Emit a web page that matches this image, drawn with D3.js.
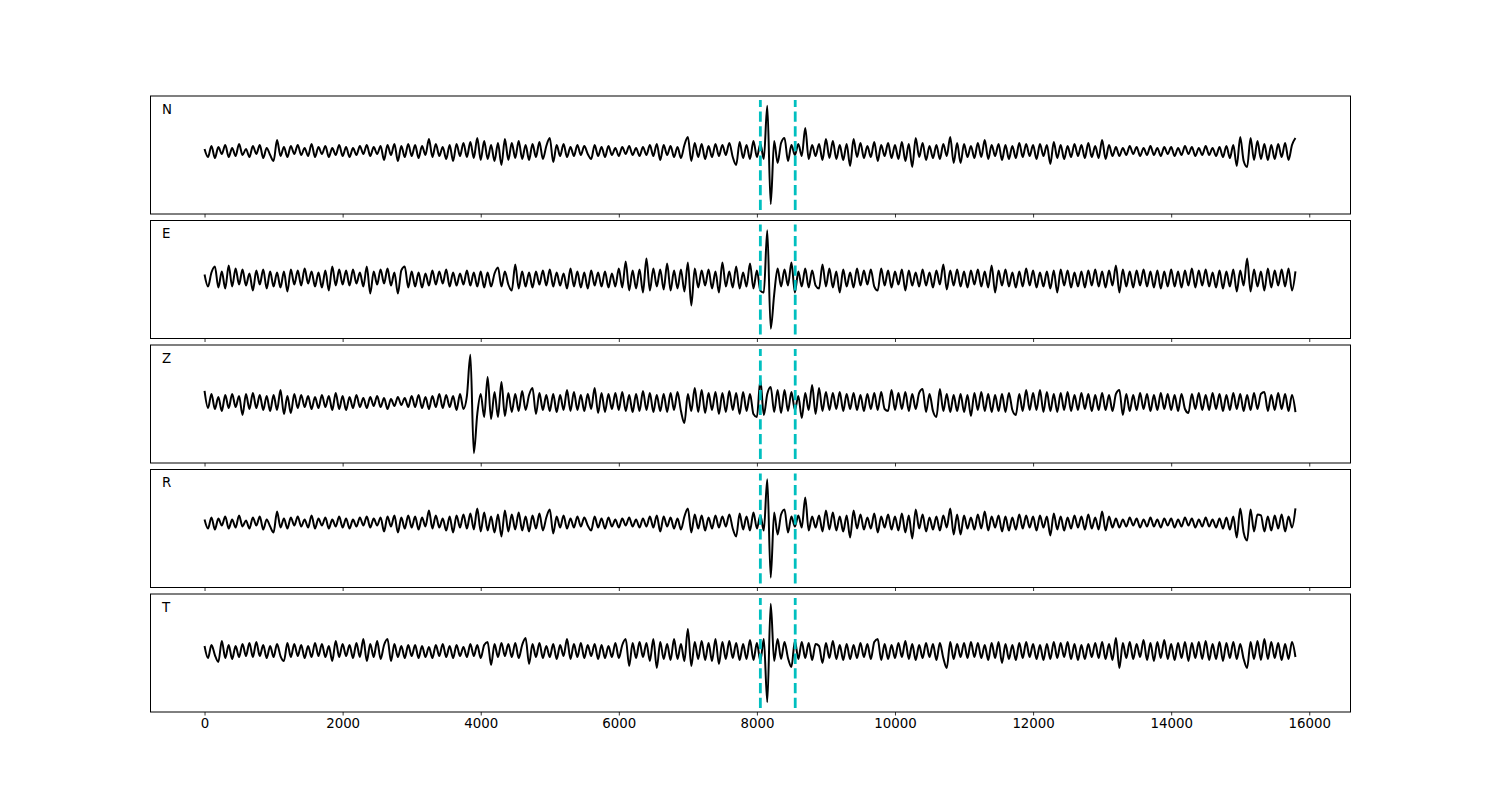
<!DOCTYPE html>
<html>
<head>
<meta charset="utf-8">
<script src="https://cdn.jsdelivr.net/npm/d3@7"></script>
<style>
  html, body { margin: 0; padding: 0; background: #fff; }
  svg { display: block; font-family: "DejaVu Sans", sans-serif; }
</style>
</head>
<body>
<svg id="chart" width="1500" height="800"></svg>
<script>
const components = ["N", "E", "Z", "R", "T"];
const sampleStep = 50;
const xTicks = [0, 2000, 4000, 6000, 8000, 10000, 12000, 14000, 16000];
const pickTimes = [8050, 8555];

const traceN = [
  2,-6,5,-7,4,-3,6,-6,3,-5,7,-4,2,-6,5,-3,6,-7,3,-4,
  -10,11,-5,4,-6,5,-3,6,-4,3,-5,7,-6,4,-3,5,-6,3,-4,6,
  -5,4,-6,3,-4,5,-3,6,-5,4,-3,5,-9,6,-4,7,-10,5,-6,7,
  -5,6,-7,5,-4,12,-6,7,-5,4,-8,6,-10,7,-5,8,-6,9,-7,13,
  -9,10,-8,6,-10,8,-14,12,-9,8,-7,10,-8,6,-9,7,-6,9,-8,5,
  13,-11,6,-5,7,-6,4,-5,6,-4,5,-3,-8,6,-5,4,-6,5,-4,3,
  -5,4,-3,5,-4,3,-5,4,-4,6,-5,7,-9,6,-4,5,-6,4,-7,6,
  14,-10,8,-6,7,-8,5,-6,7,-5,6,-4,8,-6,-14,9,-7,6,-8,10,
  -6,7,-8,45,-53,10,-12,8,13,-10,6,-4,7,-5,23,-8,6,-5,7,-9,
  12,-7,10,-8,6,-9,7,-15,12,-6,8,-7,5,-6,9,-10,6,-5,8,-7,
  6,-8,9,-10,7,-16,13,-6,8,-9,5,-7,6,-8,7,-5,14,-12,8,-12,
  7,-6,5,-7,8,-6,11,-8,6,-5,7,-9,6,-8,5,-7,8,-6,7,-5,
  6,-8,7,-5,6,-13,9,-7,6,-8,5,-6,7,-5,6,-7,8,-6,5,-7,
  11,-8,6,-5,4,-5,3,-4,5,-3,4,-5,3,-4,5,-4,3,-5,4,-3,
  4,-5,3,-4,5,-3,4,-5,3,-4,5,-4,3,-5,4,-6,5,-7,6,-15,
  14,-10,-16,13,-9,10,-8,7,-9,6,-8,7,-6,8,-9,6,13
];

const traceE = [
  4,-8,6,12,-9,7,-10,13,-8,10,-6,9,-7,5,-12,8,-6,9,-10,7,
  -8,6,-9,7,-13,9,-6,8,-7,10,-5,7,-8,6,-9,8,-12,12,-7,9,
  -6,8,-7,9,-5,6,-8,12,-15,7,-6,9,-5,10,-7,6,-15,8,12,-9,
  7,-8,6,-9,5,-7,8,-6,7,-5,9,-8,6,-7,5,-6,8,-7,6,-8,
  7,-9,6,-8,5,11,-8,7,-6,-12,14,-10,7,-8,6,-9,7,-6,8,-7,
  9,-8,6,-7,5,-10,10,-8,7,-9,6,-10,8,-7,6,-8,7,-9,5,-8,
  10,-9,17,-12,8,-10,9,-14,20,-12,10,-8,9,-11,15,-12,8,-10,9,-13,
  16,-27,10,-9,8,-7,9,-10,7,-14,16,-8,7,-9,12,-10,6,-8,15,-10,
  8,-12,-14,48,-50,-16,10,-8,9,-7,16,-14,7,-8,10,-9,8,-7,-10,14,
  -8,10,-9,7,-14,9,-8,6,-9,10,-7,8,-6,9,-8,-12,10,-7,8,-9,
  7,-6,9,-12,8,-7,6,-8,9,-7,6,-9,8,-6,14,-11,8,-7,9,-8,
  7,-9,8,-6,9,-8,7,-9,13,-14,8,-7,9,-8,6,-9,7,-8,10,-7,
  8,-9,6,-8,7,-10,8,-14,9,-7,8,-9,6,-8,7,-9,8,-7,9,-8,
  7,-9,8,-7,13,-14,9,-8,7,-9,8,-7,9,-8,7,-9,8,-10,7,-8,
  9,-8,7,-9,8,-7,10,-9,8,-7,9,-8,6,-9,8,-10,7,-8,9,-13,
  8,-7,20,-13,9,-8,7,-12,10,-9,8,-7,9,-8,10,-12,7
];

const traceZ = [
  11,-6,8,-7,5,-9,7,-6,8,-5,6,-13,8,-7,9,-6,7,-8,6,-9,
  7,-8,12,-12,6,-11,8,-6,7,-5,6,-7,5,-6,7,-5,6,-8,9,-7,
  6,-8,5,-6,7,-5,4,-6,5,-4,6,-5,4,-7,3,-4,5,-3,4,-5,
  6,-5,7,-6,5,-7,6,-5,8,-6,7,-5,6,-8,8,-7,6,47,-51,-12,
  8,-15,25,-17,10,-15,20,-14,9,-10,8,-9,11,-8,7,14,-12,9,-8,7,
  -9,8,-10,7,-8,12,-9,10,-8,7,-9,8,-7,14,-11,9,-10,8,-7,9,
  -8,10,-9,7,-10,8,-9,11,-8,9,-10,7,-9,8,-10,9,-8,10,-9,-21,
  8,-9,14,-10,12,-11,9,-8,10,-12,9,-10,11,-8,9,-12,10,-9,8,-12,
  -15,22,-13,8,15,-10,12,-11,12,-9,10,-8,6,-16,9,-8,17,-12,14,-9,
  10,-8,9,-7,10,-9,8,-7,9,-8,7,-9,8,-7,9,-8,10,-7,-9,12,
  -8,9,-7,10,-9,8,-7,9,13,-10,8,-9,-15,13,-9,8,-10,7,-9,8,
  -10,7,-14,9,-8,10,-9,8,-10,7,-9,8,-10,9,-8,-13,8,-9,12,-8,
  9,-8,12,-10,10,-9,8,-10,9,-8,10,-9,7,-8,9,-7,8,-9,7,-8,
  9,-8,7,-9,8,12,-13,8,-9,7,-8,9,-7,8,-9,7,-8,9,-7,8,
  -8,7,-9,8,-7,-11,8,-7,9,-8,7,-8,9,-7,8,-9,7,-8,9,-7,
  8,-9,7,-8,9,-7,8,10,-9,7,-8,9,-7,8,-9,7,-10
];

const traceR = [
  3,-6,5,-7,4,-3,6,-6,3,-5,7,-4,2,-6,5,-3,6,-7,3,-4,
  -10,11,-5,4,-6,5,-3,6,-4,3,-5,7,-6,4,-3,5,-6,3,-4,6,
  -5,4,-6,3,-4,5,-3,6,-5,4,-3,5,-9,6,-4,7,-10,5,-6,7,
  -5,6,-7,5,-4,12,-6,7,-5,4,-8,6,-10,7,-5,8,-6,9,-7,14,
  -9,10,-8,6,-10,8,-14,12,-9,8,-7,10,-8,6,-9,7,-6,9,-8,5,
  13,-11,6,-5,7,-6,4,-5,6,-4,5,-3,-8,6,-5,4,-6,5,-4,3,
  -5,4,-3,5,-4,3,-5,4,-4,6,-5,7,-9,6,-4,5,-6,4,-7,6,
  14,-10,8,-6,7,-8,5,-6,7,-5,6,-4,8,-6,-14,9,-7,6,-8,10,
  -6,7,-8,43,-55,10,-12,8,13,-10,6,-4,7,-5,25,-8,6,-5,7,-9,
  12,-7,10,-8,6,-9,7,-15,12,-6,8,-7,5,-6,9,-10,6,-5,8,-7,
  6,-8,9,-10,7,-16,13,-6,8,-9,5,-7,6,-8,7,-5,14,-12,8,-12,
  7,-6,5,-7,8,-6,11,-8,6,-5,7,-9,6,-8,5,-7,8,-6,7,-5,
  6,-8,7,-5,6,-13,9,-7,6,-8,5,-6,7,-5,6,-7,8,-6,5,-7,
  11,-8,6,-5,4,-5,3,-4,5,-3,4,-5,3,-4,5,-4,3,-5,4,-3,
  4,-5,3,-4,5,-3,4,-5,3,-4,5,-4,3,-5,4,-6,5,-7,6,-15,
  14,-10,-18,13,-9,8,7,-9,6,-8,7,-6,8,-9,6,-5,14
];

const traceT = [
  5,-7,6,-4,-11,10,-7,6,-8,5,-6,7,-5,8,-6,9,-5,6,-7,5,
  -6,7,-5,-10,8,-6,7,-5,6,-7,5,-6,8,-5,7,-6,5,-10,10,-6,
  7,-5,6,-7,8,-6,12,-10,7,-6,10,-8,6,12,-10,7,-6,5,-7,6,
  -5,6,-7,5,-6,4,-7,6,-5,7,-6,5,-7,6,-5,4,-6,7,-5,6,
  -7,6,9,-14,7,-6,8,-5,7,-6,8,-7,6,13,-13,7,-6,8,-7,5,
  -6,7,-8,6,-5,12,-8,7,-6,8,-7,6,-5,7,-8,6,-7,5,-6,8,
  -7,6,12,-15,8,-7,9,-6,8,-10,12,-17,9,-8,7,-9,12,-8,7,-10,
  22,-15,9,-8,10,-9,8,-10,12,-13,9,-8,10,-7,8,-9,7,-8,11,-9,
  8,-10,12,-51,47,-10,12,-8,9,-7,-16,10,-8,9,-7,8,-9,7,5,-12,
  8,-7,10,-8,6,-9,7,-8,6,-7,8,-6,7,-8,9,12,-9,7,-8,6,
  -7,8,-6,10,-8,7,-9,6,-7,8,-6,7,-9,8,-7,-17,9,-8,7,-6,
  8,-7,9,-6,8,-7,6,-9,8,-7,9,-12,7,-8,6,-9,8,-7,9,-6,
  7,-8,6,-9,7,-8,9,-7,8,-6,9,-8,7,-9,6,-8,7,-6,8,-7,
  9,-8,7,-9,13,-17,8,-7,9,-8,7,-6,11,-9,8,-10,9,-7,11,-8,
  7,-9,8,-7,9,-10,8,-7,9,-8,10,-9,7,-8,9,-10,8,-7,9,-8,
  7,-8,-17,9,-8,10,-9,12,-8,9,-7,8,-9,7,-8,9,-6
];

const traces = [traceN, traceE, traceZ, traceR, traceT];

// ---- layout ----
const figW = 1500, figH = 800;
const plotLeft = 150, plotRight = 1350, plotTop = 96, plotBottom = 712;
const nPanels = components.length;
const panelGap = 6.5;
const panelH = (plotBottom - plotTop - panelGap * (nPanels - 1)) / nPanels;

const svg = d3.select("#chart");
svg.append("rect").attr("width", figW).attr("height", figH).attr("fill", "#fff");

const tMax = (traceN.length - 1) * sampleStep;
const xMargin = 0.05 * tMax;
const x = d3.scaleLinear().domain([-xMargin, tMax + xMargin]).range([plotLeft, plotRight]);

components.forEach((name, k) => {
  const data = traces[k];
  const y0 = plotTop + k * (panelH + panelGap);
  const [mn, mx] = d3.extent(data);
  const pad = 0.1 * (mx - mn);
  const y = d3.scaleLinear().domain([mn - pad, mx + pad]).range([y0 + panelH, y0]);

  const g = svg.append("g");

  const clipId = "clip" + k;
  svg.append("clipPath").attr("id", clipId)
    .append("rect").attr("x", plotLeft).attr("y", y0).attr("width", plotRight - plotLeft).attr("height", panelH);

  const line = d3.line()
    .x((d, i) => x(i * sampleStep))
    .y(d => y(d))
    .curve(d3.curveMonotoneX);

  g.append("path")
    .datum(data)
    .attr("clip-path", `url(#${clipId})`)
    .attr("fill", "none")
    .attr("stroke", "#000")
    .attr("stroke-width", 2)
    .attr("stroke-linejoin", "round")
    .attr("d", line);

  // pick lines
  g.selectAll("line.pick").data(pickTimes).enter().append("line")
    .attr("class", "pick")
    .attr("x1", d => x(d)).attr("x2", d => x(d))
    .attr("y1", y0 + panelH - 4).attr("y2", y0 + 4)
    .attr("stroke", "#00bfbf")
    .attr("stroke-width", 2.8)
    .attr("stroke-dasharray", "10.3,4.4");

  // frame
  g.append("rect")
    .attr("x", plotLeft + 0.5).attr("y", y0)
    .attr("width", plotRight - plotLeft).attr("height", panelH)
    .attr("fill", "none").attr("stroke", "#000").attr("stroke-width", 1);

  // x axis
  const axis = d3.axisBottom(x).tickValues(xTicks).tickSizeOuter(0).tickSize(3.5).tickPadding(3.5)
    .tickFormat(k === nPanels - 1 ? d3.format("d") : () => "");
  const ag = svg.append("g").attr("transform", `translate(0,${y0 + panelH})`).call(axis);
  ag.select(".domain").remove();
  ag.selectAll(".tick line").attr("stroke", "#000").attr("stroke-width", 0.8);
  ag.selectAll(".tick text").attr("fill", "#000").attr("font-size", "13.33px")
    .attr("font-family", "DejaVu Sans, sans-serif");

  // component label
  svg.append("text")
    .attr("x", plotLeft + 12).attr("y", y0 + 17.5)
    .attr("font-size", "13.33px").attr("fill", "#000")
    .text(name);
});
</script>
</body>
</html>
